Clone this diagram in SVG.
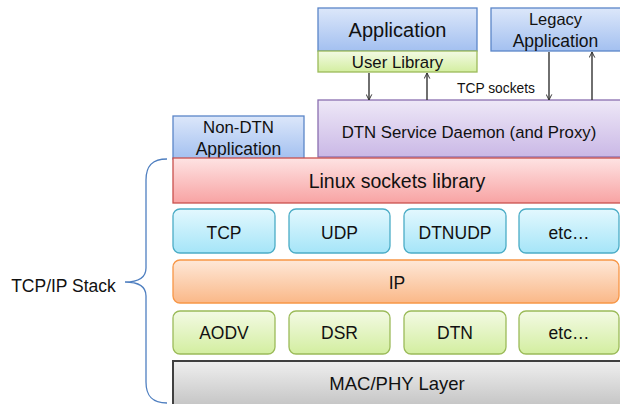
<svg xmlns="http://www.w3.org/2000/svg" width="620" height="404" viewBox="0 0 620 404">
  <defs>
    <linearGradient id="gBlue" x1="0" y1="0" x2="0" y2="1">
      <stop offset="0" stop-color="#dce7fa"/>
      <stop offset="1" stop-color="#a3c0f0"/>
    </linearGradient>
    <linearGradient id="gLime" x1="0" y1="0" x2="0" y2="1">
      <stop offset="0" stop-color="#f3fae4"/>
      <stop offset="1" stop-color="#d3eea0"/>
    </linearGradient>
    <linearGradient id="gPurple" x1="0" y1="0" x2="0" y2="1">
      <stop offset="0" stop-color="#eee8f7"/>
      <stop offset="1" stop-color="#cab8e6"/>
    </linearGradient>
    <linearGradient id="gRed" x1="0" y1="0" x2="0" y2="1">
      <stop offset="0" stop-color="#fee3e3"/>
      <stop offset="1" stop-color="#f8a3a3"/>
    </linearGradient>
    <linearGradient id="gCyan" x1="0" y1="0" x2="0" y2="1">
      <stop offset="0" stop-color="#e3f8fe"/>
      <stop offset="1" stop-color="#a5e5f8"/>
    </linearGradient>
    <linearGradient id="gOrange" x1="0" y1="0" x2="0" y2="1">
      <stop offset="0" stop-color="#fee8d8"/>
      <stop offset="1" stop-color="#fab888"/>
    </linearGradient>
    <linearGradient id="gGray" x1="0" y1="0" x2="0" y2="1">
      <stop offset="0" stop-color="#efefef"/>
      <stop offset="1" stop-color="#c4c4c4"/>
    </linearGradient>
    <marker id="head" viewBox="0 0 10 10" refX="9" refY="5" markerWidth="7" markerHeight="7" markerUnits="userSpaceOnUse" orient="auto">
      <path d="M1,1 L9,5 L1,9" fill="none" stroke="#333" stroke-width="1.4"/>
    </marker>
  </defs>
  <style>
    text { font-family: "Liberation Sans", Arial, sans-serif; font-size: 17.5px; fill: #111; text-anchor: middle; }
    .blue { fill: url(#gBlue); stroke: #5b86c8; stroke-width: 1.3; }
    .lime { fill: url(#gLime); stroke: #9bbb59; stroke-width: 1.3; }
    .purple { fill: url(#gPurple); stroke: #8a6fb0; stroke-width: 1.3; }
    .red { fill: url(#gRed); stroke: #c9504d; stroke-width: 1.3; }
    .cyan { fill: url(#gCyan); stroke: #4bacc6; stroke-width: 1.3; }
    .orange { fill: url(#gOrange); stroke: #f79646; stroke-width: 1.3; }
    .gray { fill: url(#gGray); stroke: #404040; stroke-width: 2; }
    .conn { stroke: #333; stroke-width: 1.4; fill: none; marker-end: url(#head); }
    .brace { stroke: #4f7fc0; stroke-width: 1.3; fill: none; }
  </style>

  <!-- upper applications -->
  <g id="application">
    <rect class="blue" x="318" y="8" width="159" height="43"/>
    <text x="397.5" y="37" style="font-size:20px">Application</text>
  </g>
  <g id="user-library">
    <rect class="lime" x="318" y="51" width="159" height="21"/>
    <text x="397.5" y="68" style="font-size:16.8px">User Library</text>
  </g>
  <g id="legacy-application">
    <rect class="blue" x="491" y="8" width="131" height="43"/>
    <text x="555.5" y="25" style="font-size:16.5px">Legacy</text>
    <text x="555.5" y="47" style="font-size:17.5px">Application</text>
  </g>
  <g id="dtn-daemon">
    <rect class="purple" x="318" y="100" width="304" height="57"/>
    <text x="469" y="138" style="font-size:16.8px">DTN Service Daemon (and Proxy)</text>
  </g>
  <g id="non-dtn-application">
    <rect class="blue" x="173" y="116" width="131" height="43"/>
    <text x="238.5" y="133" style="font-size:16.8px">Non-DTN</text>
    <text x="238.5" y="155" style="font-size:17.5px">Application</text>
  </g>

  <!-- protocol stack -->
  <g id="linux-sockets">
    <rect class="red" x="173" y="158" width="449" height="45"/>
    <text x="397" y="188" style="font-size:19.5px">Linux sockets library</text>
  </g>
  <g id="tcp">
    <rect class="cyan" x="173" y="209" width="102" height="44" rx="7"/>
    <text x="224" y="239">TCP</text>
  </g>
  <g id="udp">
    <rect class="cyan" x="289" y="209" width="101" height="44" rx="7"/>
    <text x="339.5" y="239">UDP</text>
  </g>
  <g id="dtnudp">
    <rect class="cyan" x="404" y="209" width="102" height="44" rx="7"/>
    <text x="455" y="239">DTNUDP</text>
  </g>
  <g id="transport-etc">
    <rect class="cyan" x="519" y="209" width="100" height="44" rx="7"/>
    <text x="569" y="239">etc…</text>
  </g>
  <g id="ip">
    <rect class="orange" x="173" y="260" width="446" height="43" rx="7"/>
    <text x="397" y="289">IP</text>
  </g>
  <g id="aodv">
    <rect class="lime" x="173" y="311" width="102" height="43" rx="7"/>
    <text x="224" y="339">AODV</text>
  </g>
  <g id="dsr">
    <rect class="lime" x="289" y="311" width="101" height="43" rx="7"/>
    <text x="339.5" y="339">DSR</text>
  </g>
  <g id="dtn">
    <rect class="lime" x="404" y="311" width="102" height="43" rx="7"/>
    <text x="455" y="339">DTN</text>
  </g>
  <g id="routing-etc">
    <rect class="lime" x="519" y="311" width="100" height="43" rx="7"/>
    <text x="569" y="339">etc…</text>
  </g>
  <g id="mac-phy">
    <rect class="gray" x="173" y="361" width="450" height="46"/>
    <text x="397" y="390" style="font-size:18.5px">MAC/PHY Layer</text>
  </g>

  <!-- stack bracket and label -->
  <g id="tcpip-stack">
    <path class="brace" d="M167,159 C152,159 146,166 146,180 L146,268 C146,278 138,282 125,282 C138,282 146,286 146,296 L146,382 C146,396 152,403 167,403"/>
    <text x="63.5" y="292">TCP/IP Stack</text>
  </g>

  <!-- socket connections -->
  <g id="connectors">
    <line class="conn" x1="369" y1="73" x2="369" y2="100"/>
    <line class="conn" x1="427" y1="100" x2="427" y2="73"/>
    <line class="conn" x1="549" y1="52" x2="549" y2="100"/>
    <line class="conn" x1="592" y1="100" x2="592" y2="52"/>
    <text x="496" y="93" style="font-size:13.8px">TCP sockets</text>
  </g>
</svg>
